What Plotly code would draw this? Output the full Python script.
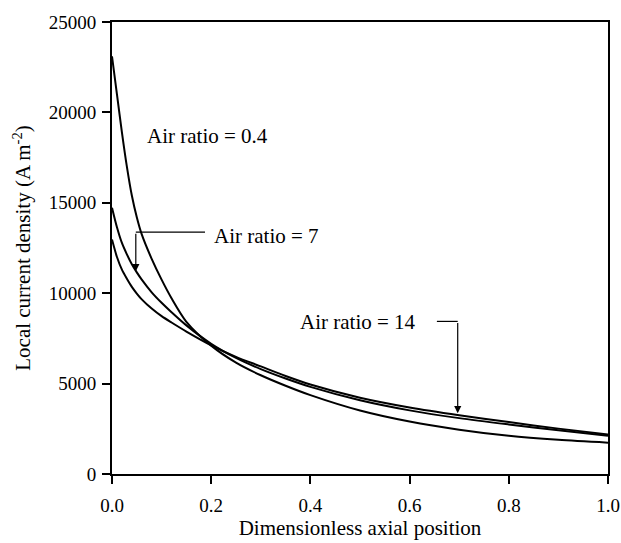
import plotly.graph_objects as go

# Dimensionless axial position
x_pos = [0.0, 0.01, 0.02, 0.03, 0.04, 0.05, 0.06, 0.08, 0.10, 0.12, 0.15, 0.20, 0.25,
         0.30, 0.35, 0.40, 0.50, 0.60, 0.70, 0.80, 0.90, 1.0]

# Local current density (A m-2)
air_04 = [23100, 21000, 18900, 17000, 15400, 14200, 13250, 11900, 10750, 9720, 8420, 7100, 6160,
          5460, 4880, 4360, 3510, 2900, 2450, 2110, 1890, 1735]
air_7 = [14730, 13650, 12780, 12150, 11600, 11150, 10750, 10050, 9470, 8950, 8220, 7200, 6420,
         5800, 5280, 4820, 4080, 3520, 3090, 2740, 2420, 2120]
air_14 = [12970, 12000, 11300, 10800, 10350, 9980, 9660, 9150, 8730, 8380, 7880, 7120, 6480,
          5950, 5420, 4950, 4220, 3680, 3250, 2870, 2510, 2180]

labels = ["Air ratio = 0.4", "Air ratio = 7", "Air ratio = 14"]
label_pos = [(0.066, 18680), (0.201, 13190), (0.375, 8390)]
# leader lines: (x_start, x_corner, y_corner, y_tip)
leader_7 = (0.1875, 0.048, 13375, 11215)
leader_14 = (0.655, 0.697, 8440, 3365)

fig = go.Figure()
for ys in (air_04, air_7, air_14):
    fig.add_trace(go.Scatter(x=x_pos, y=ys, mode="lines",
                             line=dict(color="black", width=2, shape="spline", smoothing=0.8),
                             showlegend=False, hoverinfo="skip"))

font_main = "Liberation Serif, Times New Roman, serif"

for txt, (lx, ly) in zip(labels, label_pos):
    fig.add_annotation(x=lx, y=ly, text=txt, showarrow=False, xanchor="left", yanchor="middle",
                       font=dict(family=font_main, size=21, color="black"))

for (xs, xc, yc, yt) in (leader_7, leader_14):
    fig.add_shape(type="line", x0=xs, x1=xc, y0=yc, y1=yc, xref="x", yref="y",
                  line=dict(color="black", width=1.2))
    fig.add_annotation(x=xc, y=yt, ax=xc, ay=yc, axref="x", ayref="y", xref="x", yref="y",
                       showarrow=True, arrowhead=2, arrowsize=1.2, arrowwidth=1.2,
                       arrowcolor="black", text="", standoff=0)

fig.update_layout(
    width=621, height=543,
    margin=dict(l=112, r=13, t=22, b=69),
    paper_bgcolor="white", plot_bgcolor="white",
    font=dict(family=font_main, size=19, color="black"),
)
fig.update_xaxes(range=[0, 1.0], dtick=0.2, tickformat=".1f", showgrid=False, zeroline=False,
                 showline=True, linecolor="black", linewidth=2, mirror=True,
                 ticks="outside", ticklen=8, tickwidth=2, tickcolor="black",
                 ticklabelstandoff=5, automargin=False,
                 title=dict(text="Dimensionless axial position", font=dict(size=21), standoff=6))
fig.update_yaxes(range=[0, 25000], dtick=5000, tickformat="d", showgrid=False, zeroline=False,
                 showline=True, linecolor="black", linewidth=2, mirror=True,
                 ticks="outside", ticklen=8, tickwidth=2, tickcolor="black",
                 ticklabelstandoff=2, automargin=False,
                 title=dict(text="Local current density (A m<sup>-2</sup>)", font=dict(size=21), standoff=12))

fig.write_html("out.html")
